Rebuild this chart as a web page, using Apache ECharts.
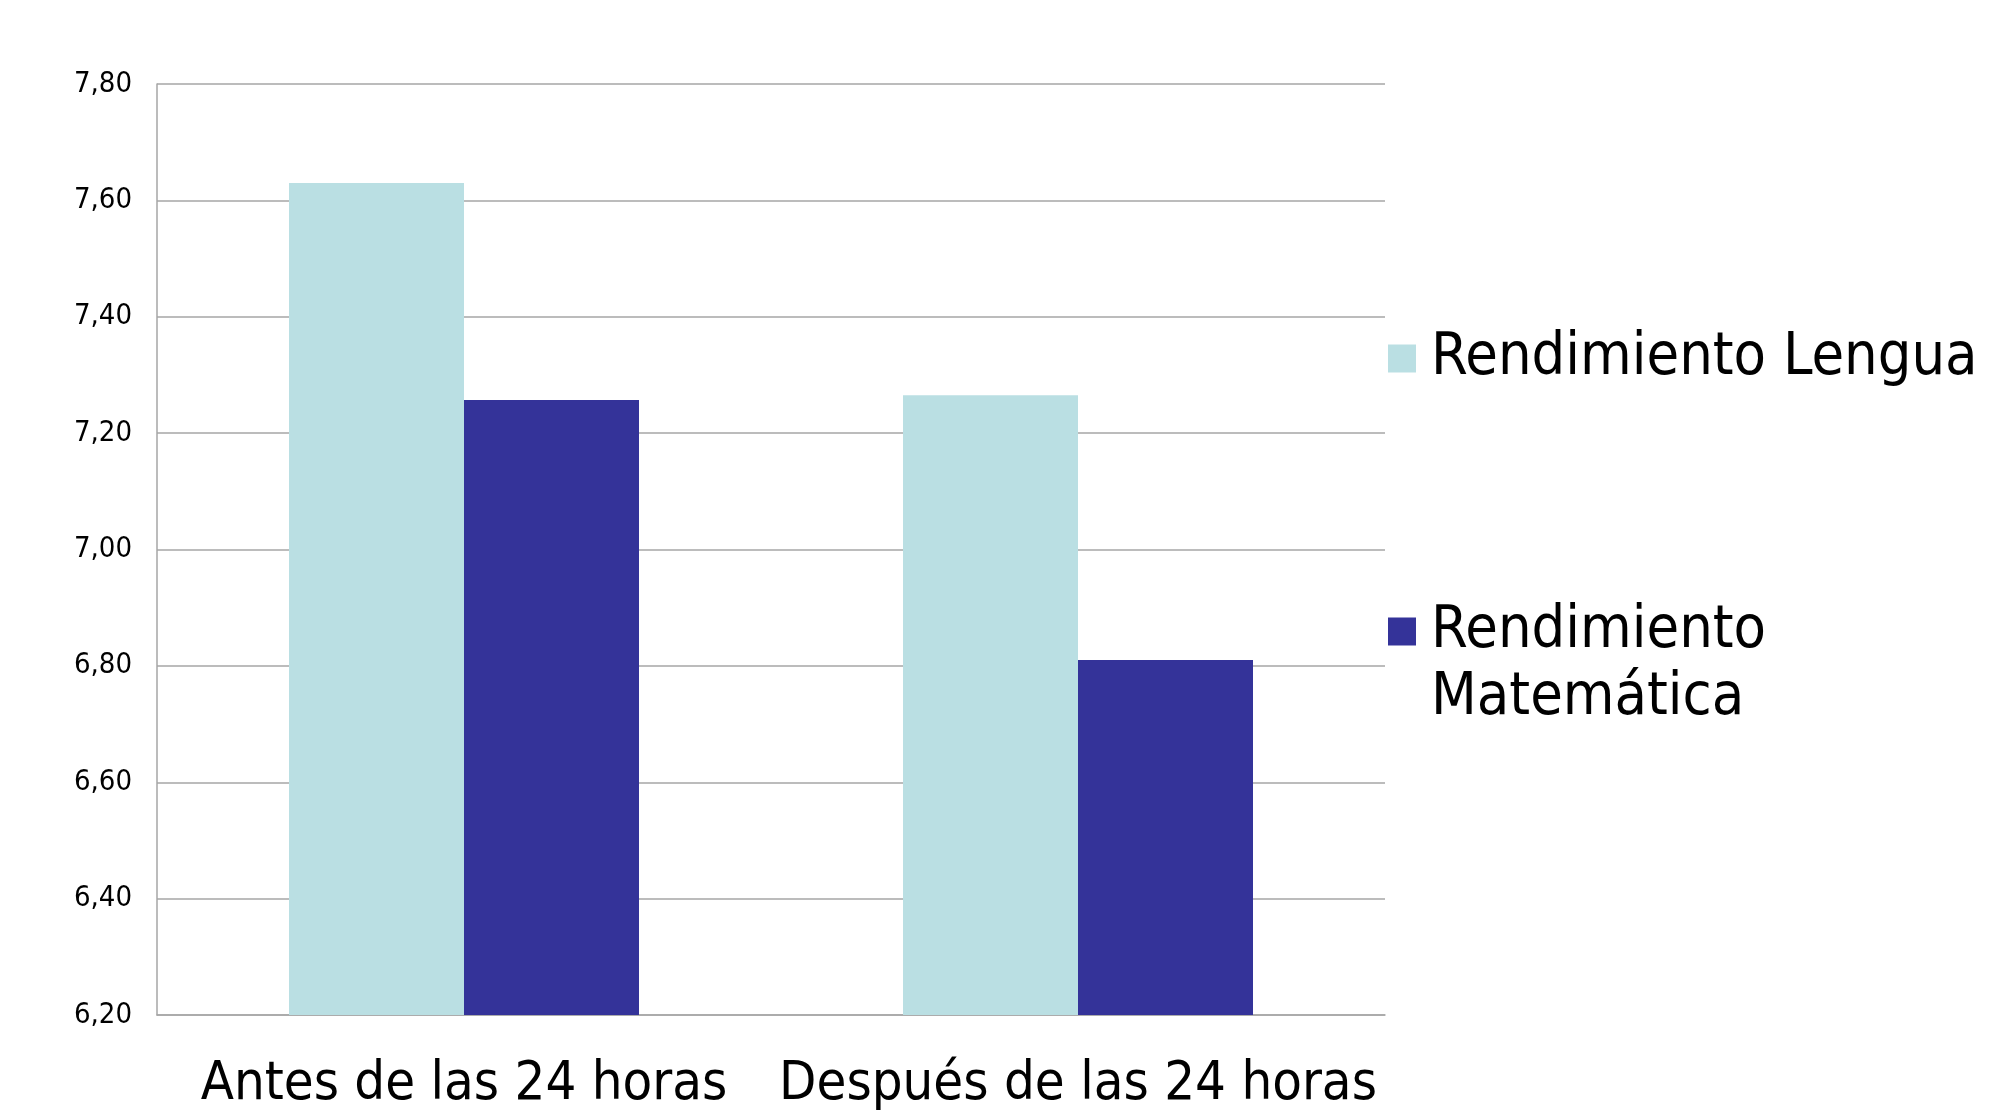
<!DOCTYPE html>
<html>
<head>
<meta charset="utf-8">
<script src="https://cdn.jsdelivr.net/npm/echarts@6/dist/echarts.min.js"></script>
<style>
  html, body { margin: 0; padding: 0; background: #fff; }
  #chart { width: 1989px; height: 1115px; }
</style>
</head>
<body>
<div id="chart"></div>
<script>
var categories = ['Antes de las 24 horas', 'Después de las 24 horas'];
var seriesNames = ['Rendimiento Lengua', 'Rendimiento Matemática'];
var lengua = [7.63, 7.265];
var matematica = [7.257, 6.81];
var colors = ['#badfe3', '#343399'];

var FONT = "'DejaVu Sans Condensed', 'DejaVu Sans', sans-serif";

var chart = echarts.init(document.getElementById('chart'));

var legendText = { fontFamily: FONT, fontSize: 59, color: '#000', lineHeight: 67, padding: [6, 0, 0, 10] };

var option = {
  backgroundColor: '#ffffff',
  animation: false,
  grid: { left: 157, right: 604, top: 84, bottom: 100 },
  legend: [{
    data: [seriesNames[0]],
    orient: 'vertical',
    left: 1388,
    top: 322,
    padding: 0,
    itemWidth: 28,
    itemHeight: 28,
    icon: 'rect',
    textStyle: legendText
  }, {
    data: [seriesNames[1]],
    orient: 'vertical',
    left: 1388,
    top: 528,
    padding: 0,
    itemWidth: 28,
    itemHeight: 28,
    icon: 'rect',
    // blank first line keeps the marker level with "Rendimiento"
    formatter: function () { return ' \nRendimiento\nMatemática'; },
    textStyle: legendText
  }],
  xAxis: {
    type: 'category',
    data: categories,
    axisLine: { lineStyle: { color: '#a6a6a6', width: 1.5 } },
    axisTick: { show: false },
    axisLabel: {
      interval: 0,
      hideOverlap: false,
      fontFamily: FONT, fontSize: 54, color: '#000',
      margin: 70, verticalAlign: 'middle'
    }
  },
  yAxis: {
    type: 'value',
    min: 6.2,
    max: 7.8,
    interval: 0.2,
    axisLine: { show: true, lineStyle: { color: '#a6a6a6', width: 1.5 } },
    axisTick: { show: false },
    splitLine: { lineStyle: { color: '#a6a6a6', width: 1.5 } },
    axisLabel: {
      fontFamily: FONT, fontSize: 29, color: '#000', margin: 25,
      formatter: function (v) { return v.toFixed(2).replace('.', ','); }
    }
  },
  series: [{
    name: seriesNames[0],
    type: 'bar',
    data: lengua,
    barWidth: 175,
    barGap: '0%',
    itemStyle: { color: colors[0] }
  }, {
    name: seriesNames[1],
    type: 'bar',
    data: matematica,
    barWidth: 175,
    barGap: '0%',
    itemStyle: { color: colors[1] }
  }]
};

chart.setOption(option);
window.onresize = chart.resize;
</script>
</body>
</html>
